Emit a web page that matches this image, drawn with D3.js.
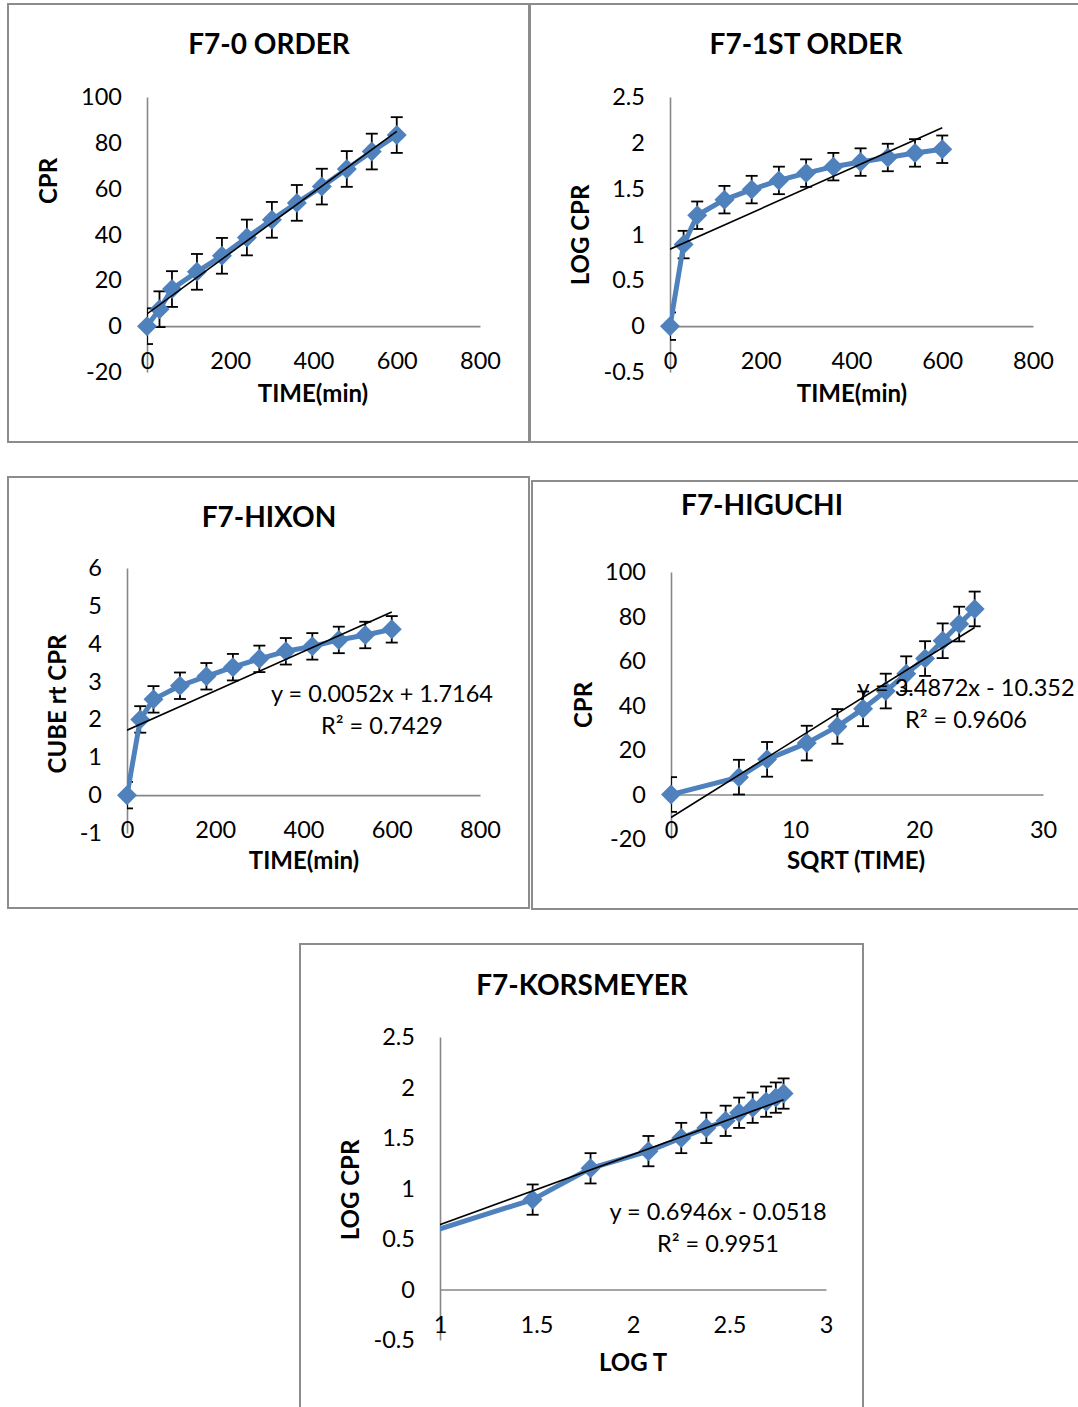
<!DOCTYPE html>
<html><head><meta charset="utf-8">
<script src="https://cdn.jsdelivr.net/npm/d3@7"></script>
<style>
body{margin:0;background:#fff}
svg{display:block}
text{font-family:Lato,"Open Sans",sans-serif;}
</style>
</head><body>
<svg id="chart" width="1078" height="1407"></svg>
<script>
// ---------------- DATA ----------------
const timeMin        = [0, 30, 60, 120, 180, 240, 300, 360, 420, 480, 540, 600];
const cprValues      = [0, 7.4, 16.2, 23.7, 30.7, 38.7, 46.4, 53.8, 60.9, 68.6, 76.2, 83.4];
const logCprValues   = [0, 0.89, 1.21, 1.38, 1.49, 1.59, 1.67, 1.74, 1.79, 1.84, 1.89, 1.93];
const cubeRtCprValues= [0, 2.0, 2.53, 2.89, 3.14, 3.38, 3.6, 3.8, 3.93, 4.1, 4.23, 4.38];
const sqrtTimeValues = [0, 5.48, 7.75, 10.95, 13.42, 15.49, 17.32, 18.97, 20.49, 21.91, 23.24, 24.49];
const higuchiCpr     = [0, 7.8, 15.8, 23.1, 30.6, 38.5, 46.5, 54.3, 61.1, 69.1, 76.6, 83.4];
const logTimeValues  = [0, 1.48, 1.78, 2.08, 2.25, 2.38, 2.48, 2.55, 2.62, 2.69, 2.74, 2.78];
const korsLogCpr     = [0, 0.89, 1.2, 1.37, 1.5, 1.6, 1.67, 1.75, 1.8, 1.86, 1.9, 1.94];

const panelTitles  = ["F7-0 ORDER", "F7-1ST ORDER", "F7-HIXON", "F7-HIGUCHI", "F7-KORSMEYER"];
const xAxisTitles  = ["TIME(min)", "TIME(min)", "TIME(min)", "SQRT (TIME)", "LOG T"];
const yAxisTitles  = ["CPR", "LOG CPR", "CUBE rt CPR", "CPR", "LOG CPR"];
const xTickValues  = [[0,200,400,600,800],[0,200,400,600,800],[0,200,400,600,800],[0,10,20,30],[1,1.5,2,2.5,3]];
const yTickValues  = [[-20,0,20,40,60,80,100],[-0.5,0,0.5,1,1.5,2,2.5],[-1,0,1,2,3,4,5,6],[-20,0,20,40,60,80,100],[-0.5,0,0.5,1,1.5,2,2.5]];
const errorAmounts = [7.8, 0.15, 0.35, 7.8, 0.15];
const equationLines= [null, null, ["y = 0.0052x + 1.7164","R² = 0.7429"], ["y = 3.4872x - 10.352","R² = 0.9606"], ["y = 0.6946x - 0.0518","R² = 0.9951"]];
const trendSlopes     = [null, null, 0.0052, 3.4872, 0.6946];
const trendIntercepts = [null, null, 1.7164, -10.352, -0.0518];

const seriesX = [timeMin, timeMin, timeMin, sqrtTimeValues, logTimeValues];
const seriesY = [cprValues, logCprValues, cubeRtCprValues, higuchiCpr, korsLogCpr];

// ---------------- LAYOUT ----------------
const layout = [
  {frame:[8,4,521,438],  x0:147, x1:480,  yt:97,  yb:372,  title:[269,44],  xt:[313,393],  yl:[48,181],  eq:null},
  {frame:[530,4,600,438],x0:670, x1:1033, yt:97,  yb:372,  title:[806,44],  xt:[852,393],  yl:[580,235], eq:null},
  {frame:[8,477,521,431],x0:127, x1:480,  yt:568, yb:833,  title:[269,517], xt:[304,860],  yl:[57,704],  eq:[382,694]},
  {frame:[532,481,600,428],x0:671,x1:1043,yt:572, yb:839,  title:[762,505], xt:[856,860],  yl:[583,705], eq:[966,688]},
  {frame:[300,944,563,500],x0:440,x1:826, yt:1037,yb:1340, title:[582,985], xt:[633,1362], yl:[350,1190],eq:[718,1212]}
];
const BLUE = "#4F81BD", AXIS = "#878787", FRAME = "#8c8c8c";

const svg = d3.select("#chart");
svg.append("rect").attr("width",1078).attr("height",1407).attr("fill","#fff");

function linreg(xs, ys){
  const n = xs.length, mx = d3.mean(xs), my = d3.mean(ys);
  let sxy=0, sxx=0;
  for(let i=0;i<n;i++){ sxy += (xs[i]-mx)*(ys[i]-my); sxx += (xs[i]-mx)**2; }
  const m = sxy/sxx; return [m, my - m*mx];
}

layout.forEach((L, i) => {
  const g = svg.append("g");
  g.append("rect").attr("x",L.frame[0]).attr("y",L.frame[1]).attr("width",L.frame[2]).attr("height",L.frame[3])
    .attr("fill","#fff").attr("stroke",FRAME).attr("stroke-width",2);

  const xt = xTickValues[i], yt = yTickValues[i];
  const x = d3.scaleLinear().domain([xt[0], xt[xt.length-1]]).range([L.x0, L.x1]);
  const y = d3.scaleLinear().domain([yt[0], yt[yt.length-1]]).range([L.yb, L.yt]);

  // axes
  const gy = g.append("g").attr("transform",`translate(${L.x0},0)`)
    .call(d3.axisLeft(y).tickValues(yt).tickSize(0).tickPadding(25).tickFormat(v=>String(v)));
  const gx = g.append("g").attr("transform",`translate(0,${y(0)})`)
    .call(d3.axisBottom(x).tickValues(xt).tickSize(0).tickFormat(v=>String(v)));
  [gy,gx].forEach(a=>{
    a.attr("font-size",null).attr("font-family",null);
    a.select(".domain").attr("stroke",AXIS).attr("stroke-width",1.6);
    a.selectAll("text").attr("fill","#000").style("font-size","23.5px");
  });
  gx.selectAll("text").attr("y",35).attr("dy","0.35em");

  const clipId = "clip"+i;
  svg.append("clipPath").attr("id",clipId).append("rect")
    .attr("x",L.x0).attr("y",L.yt).attr("width",L.x1-L.x0).attr("height",L.yb-L.yt);

  const xs = seriesX[i], ys = seriesY[i];
  const pts = xs.map((v,k)=>({x:v, y:ys[k]}));
  const inDom = p => p.x >= x.domain()[0] && p.x <= x.domain()[1];
  const err = errorAmounts[i];

  // error bars
  const eb = g.append("g").attr("stroke","#000").attr("stroke-width",1.8).attr("clip-path",`url(#${clipId})`);
  pts.filter(inDom).forEach(p=>{
    const cx = x(p.x), t = y(p.y+err), b = y(p.y-err);
    eb.append("line").attr("x1",cx).attr("x2",cx).attr("y1",t).attr("y2",b);
    eb.append("line").attr("x1",cx-6).attr("x2",cx+6).attr("y1",t).attr("y2",t);
    eb.append("line").attr("x1",cx-6).attr("x2",cx+6).attr("y1",b).attr("y2",b);
  });

  // series line
  g.append("path").datum(pts).attr("clip-path",`url(#${clipId})`)
    .attr("fill","none").attr("stroke",BLUE).attr("stroke-width",5).attr("stroke-linejoin","round")
    .attr("d", d3.line().x(p=>x(p.x)).y(p=>y(p.y)));

  // markers
  const sym = d3.symbol(d3.symbolSquare, 200);
  g.selectAll(null).data(pts.filter(inDom)).join("path")
    .attr("d", sym).attr("fill",BLUE)
    .attr("transform", p=>`translate(${x(p.x)},${y(p.y)}) rotate(45)`);

  // trendline
  let m, c;
  if (trendSlopes[i] === null) { [m, c] = linreg(xs, ys); } else { m = trendSlopes[i]; c = trendIntercepts[i]; }
  const tx0 = d3.min(xs), tx1 = d3.max(xs);
  g.append("line").attr("clip-path",`url(#${clipId})`)
    .attr("x1",x(tx0)).attr("y1",y(m*tx0+c)).attr("x2",x(tx1)).attr("y2",y(m*tx1+c))
    .attr("stroke","#000").attr("stroke-width",1.6);

  // texts
  g.append("text").attr("x",L.title[0]).attr("y",L.title[1]).attr("dy","0.36em").attr("text-anchor","middle")
    .attr("font-weight","bold").style("font-size","28px").text(panelTitles[i]);
  g.append("text").attr("x",L.xt[0]).attr("y",L.xt[1]).attr("dy","0.36em").attr("text-anchor","middle")
    .attr("font-weight","bold").style("font-size","24px").text(xAxisTitles[i]);
  g.append("text").attr("transform",`translate(${L.yl[0]},${L.yl[1]}) rotate(-90)`).attr("dy","0.36em")
    .attr("text-anchor","middle").attr("font-weight","bold").style("font-size","24px").text(yAxisTitles[i]);
  if (equationLines[i]) {
    equationLines[i].forEach((s,k)=>{
      g.append("text").attr("x",L.eq[0]).attr("y",L.eq[1]+k*32).attr("dy","0.36em").attr("text-anchor","middle")
        .style("font-size","23.5px").text(s);
    });
  }
});
</script>
</body></html>
